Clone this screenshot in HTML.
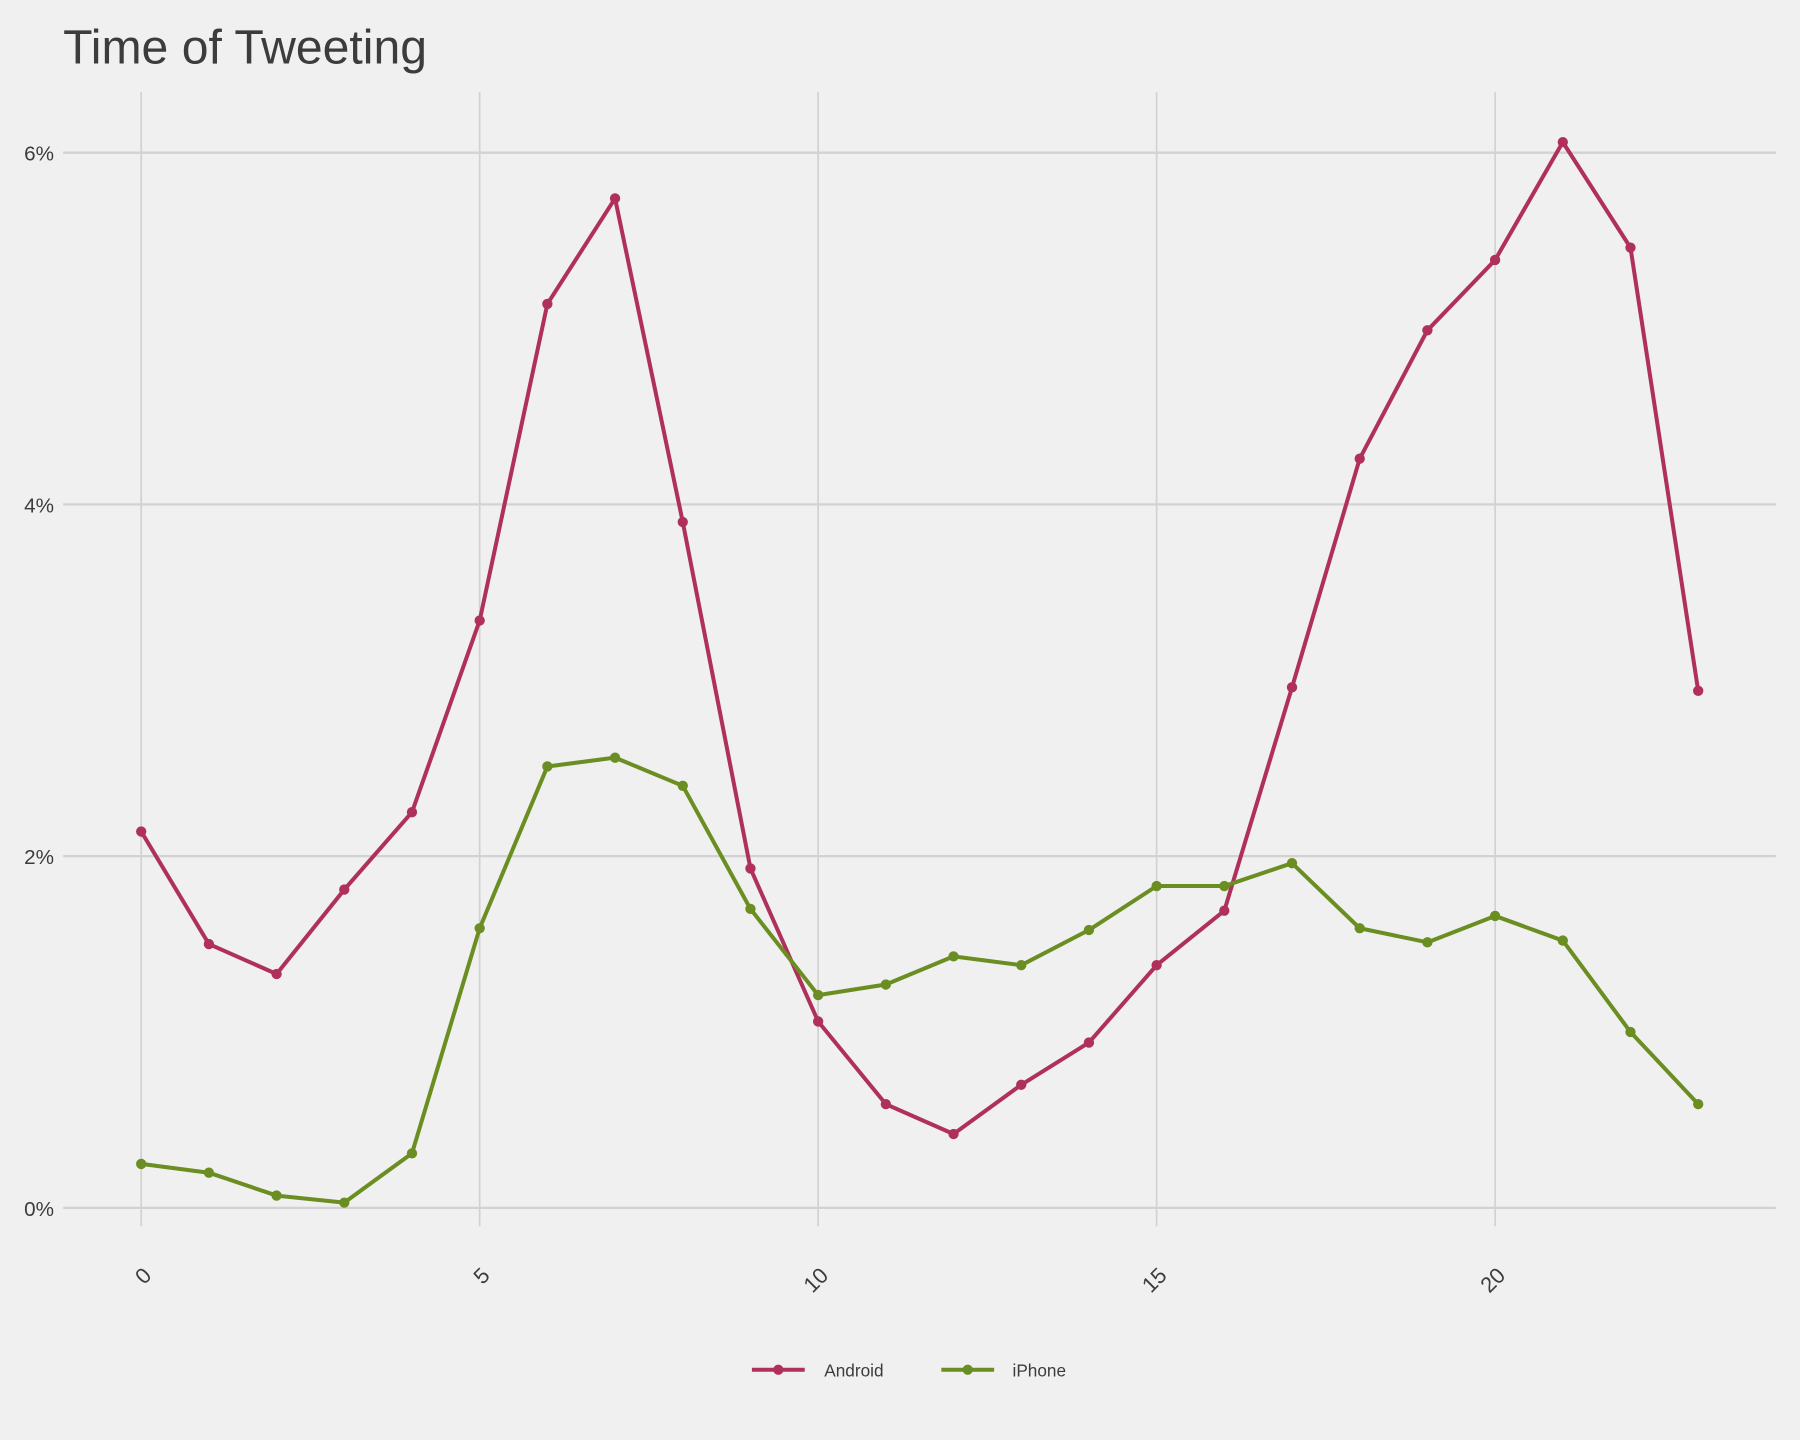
<!DOCTYPE html>
<html><head><meta charset="utf-8"><style>
html,body{margin:0;padding:0;background:#f0f0f0;}
svg{display:block;}
text{font-family:"Liberation Sans",sans-serif;fill:#3c3c3c;}
</style></head><body>
<svg id="chart" width="1800" height="1440" viewBox="0 0 1568 1254" xmlns="http://www.w3.org/2000/svg">
<rect width="1568" height="1254" fill="#f0f0f0"/>
<text x="55" y="55" font-size="42" textLength="317" lengthAdjust="spacingAndGlyphs">Time of Tweeting</text>
<g id="grid"></g>
<g id="series"></g>
<g id="legend"></g>
</svg>
<script>
const hours = [0,1,2,3,4,5,6,7,8,9,10,11,12,13,14,15,16,17,18,19,20,21,22,23];
const android = [2.14,1.50,1.33,1.81,2.25,3.34,5.14,5.74,3.90,1.93,1.06,0.59,0.42,0.70,0.94,1.38,1.69,2.96,4.26,4.99,5.39,6.06,5.46,2.94];
const iphone = [0.25,0.20,0.07,0.03,0.31,1.59,2.51,2.56,2.40,1.70,1.21,1.27,1.43,1.38,1.58,1.83,1.83,1.96,1.59,1.51,1.66,1.52,1.00,0.59];
const xTicks = [0,5,10,15,20];
const yTicks = [0,2,4,6];
const yTickLabels = ["0%","2%","4%","6%"];

const NS="http://www.w3.org/2000/svg";
const xs = h => 123 + h*58.97;
const ys = v => 1052 - v*153.2;
function mk(tag, attrs, parent){const e=document.createElementNS(NS,tag);for(const k in attrs)e.setAttribute(k,attrs[k]);parent.appendChild(e);return e;}
const grid=document.getElementById('grid');
xTicks.forEach(t=>{
  const l=mk('line',{x1:xs(t),x2:xs(t),y1:80,y2:1068,stroke:'#d2d2d2','stroke-width':1.5},grid);
  
  
  const tx=mk('text',{x:xs(t)+10,y:1112,'font-size':19,'text-anchor':'end',transform:`rotate(-45 ${xs(t)+10} 1112)`},grid);
  tx.textContent=t;
  
  
});
yTicks.forEach((t,i)=>{
  const l=mk('line',{x1:55,x2:1547,y1:ys(t),y2:ys(t),stroke:'#d2d2d2','stroke-width':2},grid);
  
  
  const tx=mk('text',{x:47,y:ys(t)+7,'font-size':18,'text-anchor':'end'},grid);
  tx.textContent=yTickLabels[i];
  
  
});
const ser=document.getElementById('series');
function drawSeries(vals,color,name){
  const p=mk('polyline',{points:vals.map((v,i)=>xs(hours[i])+','+ys(v)).join(' '),fill:'none',stroke:color,'stroke-width':3.5,'stroke-linejoin':'round'},ser);
  
  
  vals.forEach((v,i)=>{
    const c=mk('circle',{cx:xs(hours[i]),cy:ys(v),r:4.5,fill:color},ser);
    
    
  });
}
drawSeries(android,'#b0305c','android');
drawSeries(iphone,'#6b8e23','iphone');
const leg=document.getElementById('legend');
[['Android','#b0305c',655,718],['iPhone','#6b8e23',820,882]].forEach(([n,c,x0,tx0])=>{
  const g=mk('g',{},leg);
  
  
  mk('line',{x1:x0,x2:x0+46,y1:1193,y2:1193,stroke:c,'stroke-width':3.5},g);
  mk('circle',{cx:x0+23,cy:1193,r:4.5,fill:c},g);
  const t=mk('text',{x:tx0,y:1199,'font-size':15},g);
  t.textContent=n;
});
</script>
</body></html>
